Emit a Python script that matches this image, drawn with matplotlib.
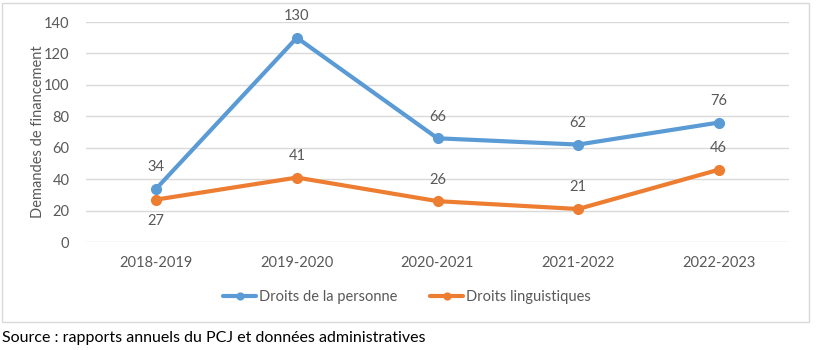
import matplotlib.pyplot as plt
from matplotlib.patches import Rectangle

plt.rcParams['font.family'] = ['Lato', 'DejaVu Sans']

annees = ['2018-2019', '2019-2020', '2020-2021', '2021-2022', '2022-2023']
droits_personne = [34, 130, 66, 62, 76]
droits_linguistiques = [27, 41, 26, 21, 46]
# position of each data label: +1 above the point, -1 below
pos_personne = [1, 1, 1, 1, 1]
pos_linguistiques = [-1, 1, 1, 1, 1]

bleu = '#5B9BD5'
orange = '#ED7D31'
gris = '#595959'

W, H = 818, 350
fig = plt.figure(figsize=(W / 100, H / 100), dpi=100)
ax = fig.add_axes([86 / W, 1 - 242 / H, (789 - 86) / W, 220 / H])

x = range(len(annees))
ax.plot(x, droits_personne, color=bleu, lw=3, marker='o', ms=7,
        label='Droits de la personne', solid_capstyle='round')
ax.plot(x, droits_linguistiques, color=orange, lw=3, marker='o', ms=7,
        label='Droits linguistiques', solid_capstyle='round')

for vals, pos in [(droits_personne, pos_personne),
                  (droits_linguistiques, pos_linguistiques)]:
    for i, v in enumerate(vals):
        ax.annotate(str(v), (i, v), xytext=(0, 15.5 * pos[i]), textcoords='offset points',
                    ha='center', va='center', fontsize=10.5, color=gris)

ax.set_xlim(-0.5, len(annees) - 0.5)
ax.set_ylim(0, 140)
ax.set_yticks(range(0, 141, 20))
ax.set_xticks(list(x))
ax.set_xticklabels(annees)
ax.grid(axis='y', color='#D9D9D9', lw=1)
ax.set_axisbelow(True)
for s in ax.spines.values():
    s.set_visible(False)
ax.tick_params(length=0, labelsize=10.5, colors=gris, pad=10)
ax.tick_params(axis='y', pad=12)
ax.set_ylabel('Demandes de financement', fontsize=10.5, color=gris, labelpad=-1)

leg = fig.legend(loc='center', bbox_to_anchor=(407 / W, 1 - 297 / H), ncol=2,
                 frameon=False, fontsize=10.5, handlelength=2.3, columnspacing=2.2,
                 handletextpad=0.2, markerscale=0.7)
for t in leg.get_texts():
    t.set_color(gris)

fig.patches.append(Rectangle((2 / W, 1 - 322 / H), 807 / W, 319 / H,
                             transform=fig.transFigure, fill=False,
                             edgecolor='#D9D9D9', lw=1))

fig.text(2 / W, 1 - 338 / H, 'Source : rapports annuels du PCJ et données administratives',
         fontsize=11.5, color='black', va='center', ha='left')

fig.savefig('out.png', dpi=100)
